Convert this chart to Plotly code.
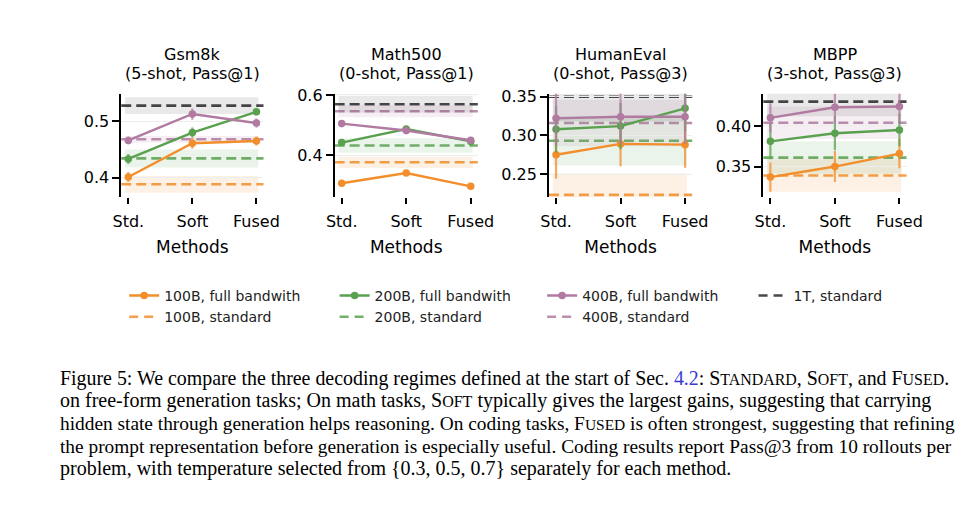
import plotly.graph_objects as go

# benchmarks and decoding methods
methods = ["Std.", "Soft", "Fused"]
benchmarks = ["Gsm8k", "Math500", "HumanEval", "MBPP"]
settings = ["(5-shot, Pass@1)", "(0-shot, Pass@1)", "(0-shot, Pass@3)", "(3-shot, Pass@3)"]

# full bandwith runs, one list per benchmark (Std., Soft, Fused)
full_100 = [[0.401, 0.461, 0.465], [0.307, 0.341, 0.297], [0.275, 0.289, 0.288], [0.337, 0.350, 0.366]]
full_100_err = [[0.009, 0.010, 0.008], [0.008, 0.008, 0.008], [0.031, 0.029, 0.030], [0.018, 0.019, 0.018]]
full_200 = [[0.433, 0.480, 0.517], [0.442, 0.487, 0.446], [0.308, 0.312, 0.335], [0.381, 0.391, 0.395]]
full_200_err = [[0.009, 0.009, 0.006], [0.010, 0.010, 0.010], [0.030, 0.030, 0.030], [0.022, 0.021, 0.020]]
full_400 = [[0.466, 0.513, 0.497], [0.505, 0.482, 0.450], [0.322, 0.324, 0.324], [0.410, 0.423, 0.424]]
full_400_err = [[0.007, 0.010, 0.008], [0.012, 0.012, 0.010], [0.035, 0.035, 0.035], [0.018, 0.020, 0.020]]

# standard decoding baselines (mean and spread), one value per benchmark
std_100 = [0.388, 0.377, 0.223, 0.339]
std_100_spread = [0.015, 0.019, 0.028, 0.020]
std_200 = [0.434, 0.4325, 0.293, 0.361]
std_200_spread = [0.016, 0.024, 0.032, 0.020]
std_400 = [0.468, 0.546, 0.316, 0.404]
std_400_spread = [0.006, 0.020, 0.030, 0.020]
std_1t = [0.528, 0.5695, 0.350, 0.430]
std_1t_spread = [0.015, 0.028, 0.032, 0.018]

# y tick values per benchmark
yticks = [[0.4, 0.5], [0.4, 0.6], [0.25, 0.30, 0.35], [0.35, 0.40]]

SC = "<span style='font-size:80%'>"
caption_lines = [
    "Figure 5: We compare the three decoding regimes defined at the start of Sec. "
    "<span style='color:#3b3bd6'>4.2</span>: S" + SC + "TANDARD</span>, S" + SC + "OFT</span>, "
    "and F" + SC + "USED</span>.",
    "on free-form generation tasks; On math tasks, S" + SC + "OFT</span> typically gives the "
    "largest gains, suggesting that carrying",
    "hidden state through generation helps reasoning. On coding tasks, F" + SC + "USED</span> "
    "is often strongest, suggesting that refining",
    "the prompt representation before generation is especially useful. Coding results report Pass@3 from 10 rollouts per",
    "problem, with temperature selected from {0.3, 0.5, 0.7} separately for each method.",
]
# the caption is justified in the original, so lines get slightly different sizes
caption_sizes = [19.9, 20, 19.35, 19.35, 20]

ORANGE = "242,142,43"
GREEN = "89,161,79"
PURPLE = "176,122,161"
BLACK = "40,40,40"

W, H = 972, 520
DX, DY = 9, 13  # page offset seen in the screenshot


def px(x):
    return (x - DX) / W


def py(y):
    return 1 - (y - DY) / H


x_dom = [(116, 262), (335, 482), (555, 702), (775, 922)]
y_ranges = [(0.365, 0.549), (0.261, 0.604), (0.2201, 0.3538), (0.3123, 0.4396)]
y_top, y_bot = 92, 197

fig = go.Figure()

full_series = [
    ("100B, full bandwith", full_100, full_100_err, ORANGE, "legend"),
    ("200B, full bandwith", full_200, full_200_err, GREEN, "legend2"),
    ("400B, full bandwith", full_400, full_400_err, PURPLE, "legend3"),
]
std_series = [
    ("100B, standard", std_100, std_100_spread, ORANGE, "legend"),
    ("200B, standard", std_200, std_200_spread, GREEN, "legend2"),
    ("400B, standard", std_400, std_400_spread, PURPLE, "legend3"),
    ("1T, standard", std_1t, std_1t_spread, BLACK, "legend4"),
]

for i in range(len(benchmarks)):
    xa = "x" if i == 0 else f"x{i + 1}"
    ya = "y" if i == 0 else f"y{i + 1}"

    # bands and dashed baselines
    for name, vals, spread, c, lg in std_series:
        alpha = 0.10 if c == BLACK else 0.12
        fig.add_shape(type="rect", xref=xa, yref=ya, x0=-0.05, x1=2.03,
                      y0=vals[i] - spread[i], y1=vals[i] + spread[i],
                      fillcolor=f"rgba({c},{alpha})", line_width=0, layer="below")
        fig.add_shape(type="line", xref=f"{xa} domain", yref=ya, x0=0, x1=1,
                      y0=vals[i], y1=vals[i], layer="below",
                      line=dict(color=f"rgba({c},0.85)", width=2.6, dash="10px,5px"))

    for name, vals, errs, c, lg in full_series:
        fig.add_trace(go.Scatter(
            x=methods, y=vals[i], xaxis=xa, yaxis=ya, name=name, legend=lg,
            showlegend=(i == 0), mode="lines+markers",
            line=dict(color=f"rgb({c})", width=2.4),
            marker=dict(color=f"rgb({c})", size=7.5),
            error_y=dict(type="data", array=errs[i], width=0, thickness=2.2,
                         color=f"rgba({c},0.75)"),
        ))

# legend-only entries for the dashed baselines
for name, vals, spread, c, lg in std_series:
    fig.add_trace(go.Scatter(
        x=[None], y=[None], mode="lines", name=name, legend=lg,
        line=dict(color=f"rgba({c},0.85)", width=2.6, dash="9px,6px"),
    ))

layout = dict(
    width=W, height=H,
    margin=dict(l=0, r=0, t=0, b=0),
    paper_bgcolor="white", plot_bgcolor="white",
    font=dict(family="DejaVu Sans", size=16, color="black"),
)

for i in range(len(benchmarks)):
    sx = "" if i == 0 else str(i + 1)
    layout[f"xaxis{sx}"] = dict(
        domain=[px(x_dom[i][0]), px(x_dom[i][1])],
        anchor=f"y{sx}", range=[-0.11, 2.11], type="category",
        showline=False, showgrid=False, zeroline=False,
        ticks="outside", ticklen=6, tickwidth=1.5, tickcolor="black",
        tickfont=dict(size=16), ticklabelstandoff=4,
        title=dict(text="Methods", font=dict(size=17), standoff=10),
    )
    layout[f"yaxis{sx}"] = dict(
        domain=[py(y_bot), py(y_top)],
        anchor=f"x{sx}", range=list(y_ranges[i]),
        tickvals=yticks[i], tickformat=".1f" if i < 2 else ".2f",
        showline=True, linecolor="black", linewidth=1.6,
        ticks="outside", ticklen=7, tickwidth=1.5, tickcolor="black",
        showgrid=True, gridcolor="#ededed", gridwidth=1, zeroline=False,
        tickfont=dict(size=16),
    )

leg_x = [119, 335, 548, 765]
for j, lg in enumerate(["legend", "legend2", "legend3", "legend4"]):
    layout[lg] = dict(
        x=px(leg_x[j]), y=py(281), xanchor="left", yanchor="top",
        orientation="v", font=dict(size=14, color="#222"),
        bgcolor="rgba(0,0,0,0)", itemwidth=30, tracegroupgap=0,
    )

fig.update_layout(**layout)

# panel titles
for i in range(len(benchmarks)):
    cx = px((x_dom[i][0] + x_dom[i][1]) / 2)
    fig.add_annotation(x=cx, y=py(52), xref="paper", yref="paper", text=benchmarks[i],
                       showarrow=False, xanchor="center", yanchor="middle", font=dict(size=16))
    fig.add_annotation(x=cx, y=py(71), xref="paper", yref="paper", text=settings[i],
                       showarrow=False, xanchor="center", yanchor="middle", font=dict(size=16))

# figure caption
cap_y = [381, 404, 427, 450, 473]
for line, yy, fs in zip(caption_lines, cap_y, caption_sizes):
    fig.add_annotation(x=px(51), y=py(yy), xref="paper", yref="paper", text=line,
                       showarrow=False, xanchor="left", yanchor="middle",
                       font=dict(family="Liberation Serif", size=fs, color="black"))

fig.write_html("out.html")
